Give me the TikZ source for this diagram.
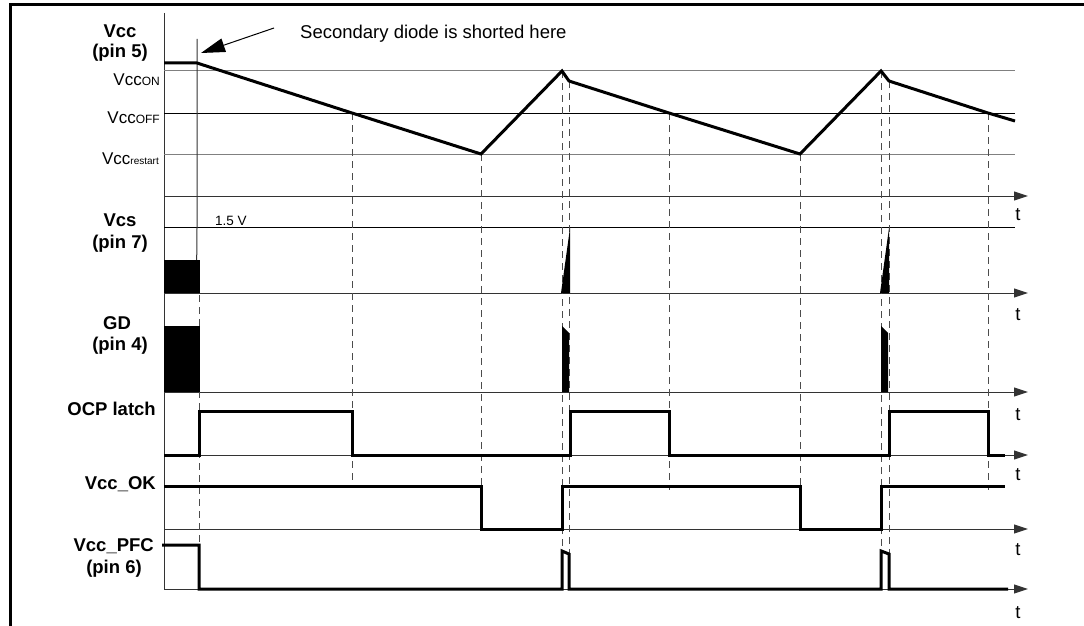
\documentclass[tikz,border=0pt]{standalone}
\usepackage{fontspec}
\setmainfont{Liberation Sans}
\usetikzlibrary{arrows.meta}
\begin{document}
\begin{tikzpicture}[x=1pt,y=-1pt,
  wave/.style={line width=3pt, line join=miter},
  axisline/.style={line width=1pt, draw=black!80, -{Triangle[length=14pt,width=9pt]}},
  refgray/.style={line width=1pt, draw=black!50},
  refdark/.style={line width=1pt, draw=black},
  guide/.style={line width=1pt, draw=black!70, dash pattern=on 7pt off 5pt},
  thinline/.style={line width=1pt, draw=black!80},
  sig/.style={font=\fontsize{18.5}{21}\selectfont\bfseries, inner sep=0pt, anchor=base},
  sigr/.style={font=\fontsize{18.5}{21}\selectfont\bfseries, inner sep=0pt, anchor=base east},
  lvl/.style={inner sep=0pt, anchor=base east},
  tlab/.style={font=\fontsize{18.5}{20}\selectfont, inner sep=0pt, anchor=base}
]
\useasboundingbox (0,0) rectangle (1084,626);

% frame
\draw[line width=3pt] (10,626) -- (10,5) -- (1084,5);

% left axis
\draw[thinline] (164,13) -- (164,589);

% Vcc reference lines and axis
\draw[refgray] (164,71) -- (1015,71);
\draw[refdark] (164,113) -- (1015,113);
\draw[refgray] (164,154) -- (1015,154);
\draw[axisline] (164,196) -- (1028,196);

% Vcs
\draw[refdark] (164,227) -- (1015,227);
\draw[axisline] (164,293) -- (1028,293);
% GD
\draw[axisline] (164,392) -- (1028,392);
% OCP
\draw[axisline] (164,455) -- (1028,455);
% Vcc_OK
\draw[axisline] (164,529) -- (1028,529);
% Vcc_PFC
\draw[axisline] (164,589) -- (1028,589);

% dashed guides
\draw[guide] (199,295) -- (199,589);
\draw[guide] (352,113) -- (352,487);
\draw[guide] (481,154) -- (481,486);
\draw[guide] (562,71) -- (562,551);
\draw[guide] (569,81) -- (569,554);
\draw[guide] (669,113) -- (669,490);
\draw[guide] (800,154) -- (800,486);
\draw[guide] (881,71) -- (881,551);
\draw[guide] (889,81) -- (889,554);
\draw[guide] (988,113) -- (988,490);

% solid marker line at short instant
\draw[thinline] (197,39) -- (197,228) -- (196.7,260);

% Vcc waveform
\draw[wave] (164,63) -- (197,63) -- (352,113) -- (481,154) -- (562,71) -- (569,81)
  -- (669,113) -- (800,154) -- (881,71) -- (889,81) -- (988,113) -- (1015,121);

% Vcs
\fill (164,260) rectangle (200,293);
\fill (561,293) -- (570,228) -- (570,293) -- cycle;
\fill (880,293) -- (889,228) -- (889,293) -- cycle;

% GD
\fill (164,326) rectangle (200,392);
\fill (562,326) -- (569,333) -- (569,392) -- (562,392) -- cycle;
\fill (881,326) -- (888,333) -- (888,392) -- (881,392) -- cycle;

% OCP latch
\draw[wave] (164,455) -- (199,455) -- (199,411) -- (352,411) -- (352,455) -- (570,455)
  -- (570,411) -- (669,411) -- (669,455) -- (889,455) -- (889,411) -- (988,411)
  -- (988,455) -- (1005,455);

% Vcc_OK
\draw[wave] (164,486) -- (481,486) -- (481,529) -- (562,529) -- (562,486) -- (800,486)
  -- (800,529) -- (881,529) -- (881,486) -- (1005,486);

% Vcc_PFC
\draw[wave] (162,545) -- (199,545) -- (199,589) -- (562,589) -- (562,551) -- (569,554)
  -- (569,589) -- (881,589) -- (881,551) -- (889,554) -- (889,589) -- (1008,589);

% annotation
\node[font=\fontsize{18.5}{20}\selectfont, inner sep=0pt, anchor=base west] (note) at (300,39) {Secondary diode is shorted here};
\coordinate (arrstart) at (274,28);
\coordinate (arrtip) at (201,53);
\draw[line width=1pt, -{Triangle[length=24pt,width=14pt]}] (arrstart) -- (arrtip);

% signal labels
\node[sig] (l1a) at (120,38) {Vcc};
\node[sig] (l1b) at (120,58) {(pin 5)};
\node[sig] (l2a) at (120,226) {Vcs};
\node[sig] (l2b) at (120,248) {(pin 7)};
\node[sig] (l3a) at (117,329) {GD};
\node[sig] (l3b) at (120,350) {(pin 4)};
\node[sigr] (l4) at (156,415) {OCP latch};
\node[sigr] (l5) at (156,489) {Vcc\_OK};
\node[sigr] (l6a) at (154,551) {Vcc\_PFC};
\node[sig] (l6b) at (114,573) {(pin 6)};

% level labels
\node[lvl] (von) at (160,85) {\fontsize{17}{18}\selectfont Vcc\fontsize{12}{13}\selectfont ON};
\node[lvl] (voff) at (160,123) {\fontsize{17}{18}\selectfont Vcc\fontsize{12}{13}\selectfont OFF};
\node[lvl] (vrs) at (159,164) {\fontsize{17}{18}\selectfont Vcc\fontsize{10}{11}\selectfont restart};
\node[font=\fontsize{13.5}{15}\selectfont, inner sep=0pt, anchor=base west] (v15) at (215,225) {1.5 V};

% t labels
\node[tlab] (t1) at (1018,220) {t};
\node[tlab] (t2) at (1018,320) {t};
\node[tlab] (t3) at (1018,420) {t};
\node[tlab] (t4) at (1018,480) {t};
\node[tlab] (t5) at (1018,555) {t};
\node[tlab] (t6) at (1018,618) {t};
\end{tikzpicture}
\end{document}
